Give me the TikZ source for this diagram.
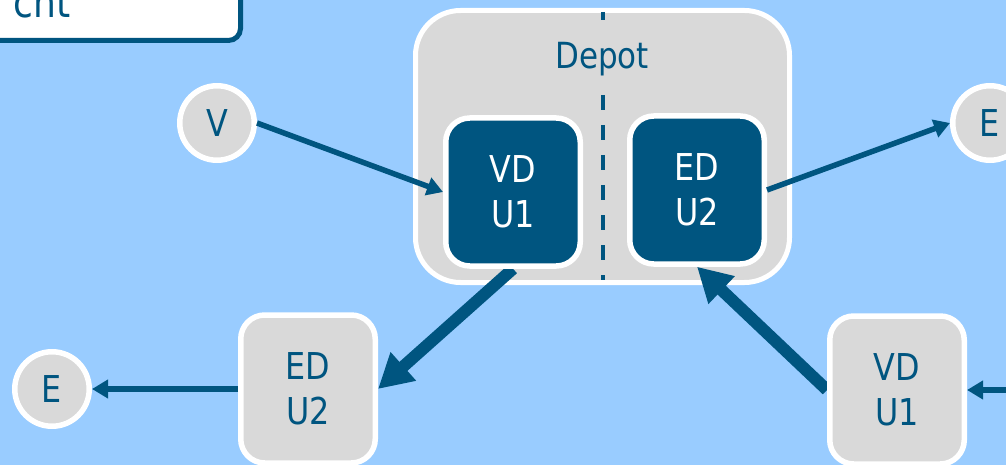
\documentclass[tikz,border=0pt]{standalone}
\usepackage{fontspec}
\setmainfont{DejaVu Sans}[FakeStretch=0.86]
\usetikzlibrary{arrows.meta}
\definecolor{dblue}{RGB}{0,85,128}
\definecolor{bgblue}{RGB}{153,204,255}
\definecolor{lgray}{RGB}{217,217,217}
\pgfdeclarelayer{back}
\pgfdeclarelayer{mid}
\pgfsetlayers{back,mid,main}
\begin{document}
\begin{tikzpicture}[x=1pt,y=-1pt,
  darkbox/.style={draw=white, line width=5.5pt, fill=dblue, text=white, rounded corners=24pt,
    minimum width=134.5pt, minimum height=148pt, align=center,
    font=\fontsize{37}{45}\selectfont, inner sep=0pt},
  graybox/.style={darkbox, fill=lgray, text=dblue},
  ball/.style={circle, draw=white, line width=5.5pt, fill=lgray, text=dblue,
    minimum size=74.5pt, inner sep=0pt, font=\fontsize{37}{42}\selectfont},
  thinarrow/.style={dblue, line width=5.5pt, -{Triangle[length=16pt,width=18pt]}},
  thickarrow/.style={dblue, line width=12pt, -{Triangle[length=34pt,width=36pt]}},
]
\useasboundingbox (0,0) rectangle (1006,465);
\begin{pgfonlayer}{back}
\fill[bgblue] (0,0) rectangle (1006,465);
\node[draw=white, line width=5pt, fill=lgray, rounded corners=45pt, minimum width=374pt,
  minimum height=272pt, inner sep=0pt] (depot) at (602.5,146.5) {};
\draw[dblue, line width=4pt, dash pattern=on 15pt off 15pt, dash phase=7pt] (603,12) -- (603,280);
\node[fill=lgray, text=dblue, inner xsep=4pt, inner ysep=16pt, anchor=base,
  font=\fontsize{36}{40}\selectfont] (depotlabel) at (602,69) {Depot};
\end{pgfonlayer}
\draw[dblue, line width=5pt, fill=white, rounded corners=12pt] (-40,-40) rectangle (240.5,40.5);
\node[text=dblue, anchor=base east, inner sep=0pt, font=\fontsize{42}{48}\selectfont] (toptext) at (71,18) {cnt};
\node[darkbox] (vd1) at (513,192) {VD\\U1};
\node[darkbox] (ed2) at (697,190) {ED\\U2};
\node[graybox] (ed2L) at (308,389) {ED\\U2};
\node[graybox] (vd1R) at (897,390) {VD\\U1};
\node[ball] (V) at (217,123) {V};
\node[ball] (Er) at (990,123) {E};
\node[ball] (El) at (52,389) {E};
\coordinate (inR) at (1012,390);
\draw[thinarrow] (V.east) -- (vd1.west);
\draw[thinarrow] (ed2.east) -- (Er.west);
\draw[thinarrow] (ed2L.west) -- (El.east);
\draw[thinarrow] (inR) -- (vd1R.east);
\begin{pgfonlayer}{mid}
\draw[thickarrow] (vd1.south) -- (ed2L.east);
\draw[thickarrow] (vd1R.west) -- (ed2.south);
\end{pgfonlayer}
\end{tikzpicture}
\end{document}
